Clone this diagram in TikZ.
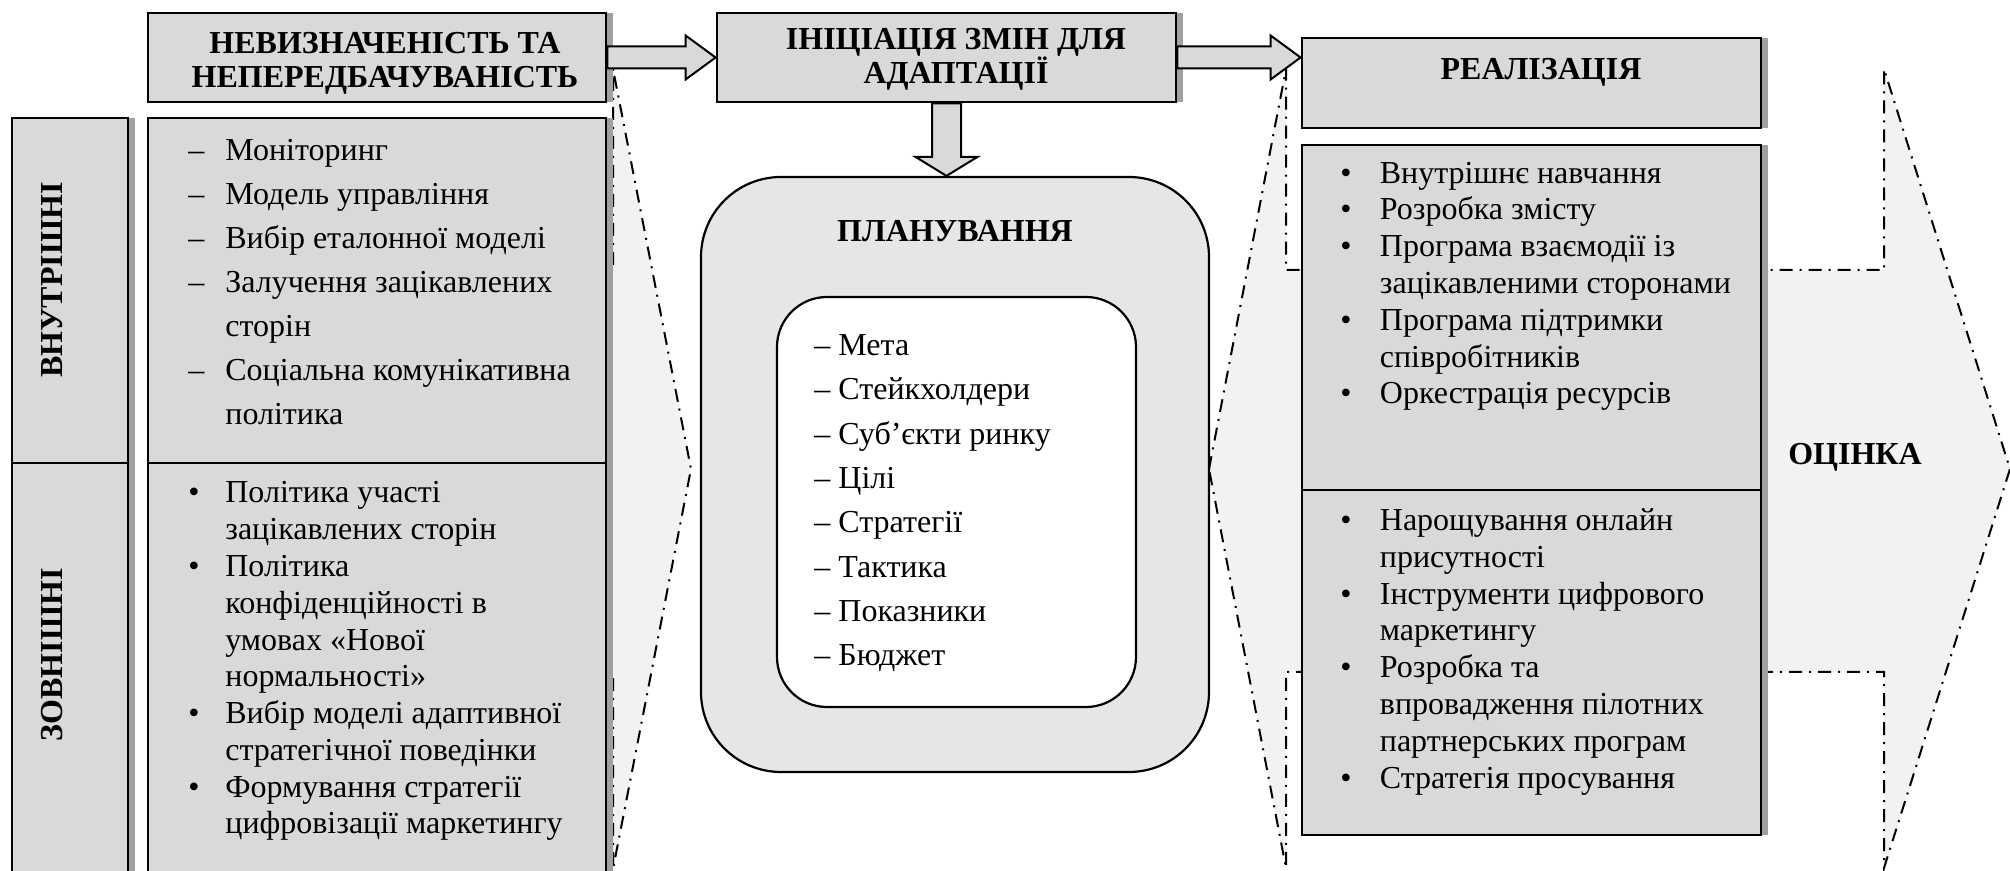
\documentclass[tikz,border=0pt]{standalone}
\usepackage{fontspec}
\setmainfont{Liberation Serif}
\usetikzlibrary{calc,shadows}

\definecolor{boxgray}{RGB}{217,217,217}
\definecolor{plangray}{RGB}{230,230,230}
\definecolor{wedgegray}{RGB}{242,242,242}
\definecolor{shadegray}{RGB}{160,160,160}

\tikzstyle{greybox}=[rectangle,draw=black,line width=1.4pt,fill=boxgray,inner sep=0pt,
                     general shadow={fill=shadegray,shadow xshift=3.5pt,shadow yshift=0pt}]
\tikzstyle{roundbox}=[rectangle,draw=black,line width=1.1pt,inner sep=0pt]
\tikzstyle{blockarrow}=[draw=black,line width=1pt,fill=boxgray]
\tikzstyle{wedge}=[draw=black,line width=1pt,fill=wedgegray,
                   dash pattern=on 6.5pt off 3.5pt on 1pt off 3.5pt]
\tikzstyle{headtext}=[font=\fontsize{16pt}{17pt}\selectfont\bfseries,align=center,inner sep=0pt]
\tikzstyle{listtext}=[font=\fontsize{16pt}{18.4pt}\selectfont,align=left,inner sep=0pt,anchor=base west]
\tikzset{boxsize/.style 2 args={minimum width=#1*0.5pt,minimum height=#2*0.5pt}}

\newcommand\dashitem[1]{\makebox[18.5pt][l]{–}#1}
\newcommand\bulitem[2][18.5pt]{\makebox[#1][l]{\textbullet}#2}
\newcommand\contline[2][18.5pt]{\makebox[#1]{}#2}
\newcommand\rightblock[2]{%
  \coordinate (#2tip) at (#2.west |- #1.east);
  \draw[blockarrow] ($(#1.east)+(0,-11)$) -- ($(#2tip)+(-30,-11)$) -- ($(#2tip)+(-30,-22)$)
     -- (#2tip) -- ($(#2tip)+(-30,22)$) -- ($(#2tip)+(-30,11)$) -- ($(#1.east)+(0,11)$) -- cycle;}

\begin{document}
\begin{tikzpicture}[x=0.5pt,y=-0.5pt]
    \useasboundingbox (0,0) rectangle (2010,871);
    \clip (0,0) rectangle (2010,871);
    \fill[white] (0,0) rectangle (2010,871);

    % dash-dot arrows in the background
    \draw[wedge] (560,270) -- (613,270) -- (613,69) -- (691,469) -- (613,869) -- (613,672) -- (560,672) -- cycle;
    \draw[wedge] (1209,469) -- (1286,69) -- (1286,270) -- (1884,270) -- (1884,69) -- (2010,469)
        -- (1884,868) -- (1884,672) -- (1286,672) -- (1286,868) -- cycle;

    % boxes
    \node [greybox,boxsize={458}{89}] (nev) at (377,57.5) {};
    \node [greybox,boxsize={459}{89}] (init) at (946.5,57.5) {};
    \node [greybox,boxsize={459}{90}] (real) at (1531.5,83) {};
    \node [greybox,boxsize={116}{345}] (inner) at (70,290.5) {};
    \node [greybox,boxsize={116}{427}] (outer) at (70,676.5) {};
    \node [greybox,boxsize={458}{345}] (innerlist) at (377,290.5) {};
    \node [greybox,boxsize={458}{427}] (outerlist) at (377,676.5) {};
    \node [greybox,boxsize={459}{345}] (reallist) at (1531.5,317.5) {};
    \node [greybox,boxsize={459}{345}] (digilist) at (1531.5,662.5) {};
    \node [roundbox,fill=plangray,rounded corners=40pt,boxsize={508}{595}] (plan) at (955,474.5) {};
    \node [roundbox,fill=white,rounded corners=25pt,boxsize={359}{410}] (planlist) at (956.5,502) {};

    % headings (base = last line)
    \node [headtext,anchor=base] (nevtext) at (385,88) {НЕВИЗНАЧЕНІСТЬ ТА\\НЕПЕРЕДБАЧУВАНІСТЬ};
    \node [headtext,anchor=base] (inittext) at (956,84) {ІНІЦІАЦІЯ ЗМІН ДЛЯ\\АДАПТАЦІЇ};
    \node [headtext,anchor=base] (realtext) at (1541,80) {РЕАЛІЗАЦІЯ};
    \node [headtext,anchor=base] (plantext) at (955,242) {ПЛАНУВАННЯ};
    \node [headtext,anchor=base] (evaltext) at (1855,465) {ОЦІНКА};
    \node [headtext,rotate=90] (innertext) at (52,280) {ВНУТРІШНІ};
    \node [headtext,rotate=90] (outertext) at (52,655) {ЗОВНІШНІ};

    % lists (base = last line)
    \node [listtext,font=\fontsize{16pt}{22pt}\selectfont] (inneritems) at (188,425) {
        \dashitem{Моніторинг}\\
        \dashitem{Модель управління}\\
        \dashitem{Вибір еталонної моделі}\\
        \dashitem{Залучення зацікавлених}\\
        \contline{сторін}\\
        \dashitem{Соціальна комунікативна}\\
        \contline{політика}};
    \node [listtext] (outeritems) at (188,834) {
        \bulitem{Політика участі}\\
        \contline{зацікавлених сторін}\\
        \bulitem{Політика}\\
        \contline{конфіденційності в}\\
        \contline{умовах «Нової}\\
        \contline{нормальності»}\\
        \bulitem{Вибір моделі адаптивної}\\
        \contline{стратегічної поведінки}\\
        \bulitem{Формування стратегії}\\
        \contline{цифровізації маркетингу}};
    \node [listtext,font=\fontsize{16pt}{22.2pt}\selectfont] (planitems) at (814,666) {
        – Мета\\
        – Стейкхолдери\\
        – Суб’єкти ринку\\
        – Цілі\\
        – Стратегії\\
        – Тактика\\
        – Показники\\
        – Бюджет};
    \node [listtext] (realitems) at (1340,404) {
        \bulitem[19.75pt]{Внутрішнє навчання}\\
        \bulitem[19.75pt]{Розробка змісту}\\
        \bulitem[19.75pt]{Програма взаємодії із}\\
        \contline[19.75pt]{зацікавленими сторонами}\\
        \bulitem[19.75pt]{Програма підтримки}\\
        \contline[19.75pt]{співробітників}\\
        \bulitem[19.75pt]{Оркестрація ресурсів}};
    \node [listtext] (digiitems) at (1340,788) {
        \bulitem[19.75pt]{Нарощування онлайн}\\
        \contline[19.75pt]{присутності}\\
        \bulitem[19.75pt]{Інструменти цифрового}\\
        \contline[19.75pt]{маркетингу}\\
        \bulitem[19.75pt]{Розробка та}\\
        \contline[19.75pt]{впровадження пілотних}\\
        \contline[19.75pt]{партнерських програм}\\
        \bulitem[19.75pt]{Стратегія просування}};

    % block arrows
    \rightblock{nev}{init}
    \rightblock{init}{real}
    \coordinate (plantip) at (init.south |- plan.north);
    \draw[blockarrow] ($(init.south)+(-14.5,0)$) -- ($(plantip)+(-14.5,-19)$) -- ($(plantip)+(-31,-19)$)
        -- (plantip) -- ($(plantip)+(31,-19)$) -- ($(plantip)+(14.5,-19)$) -- ($(init.south)+(14.5,0)$) -- cycle;
\end{tikzpicture}
\end{document}
